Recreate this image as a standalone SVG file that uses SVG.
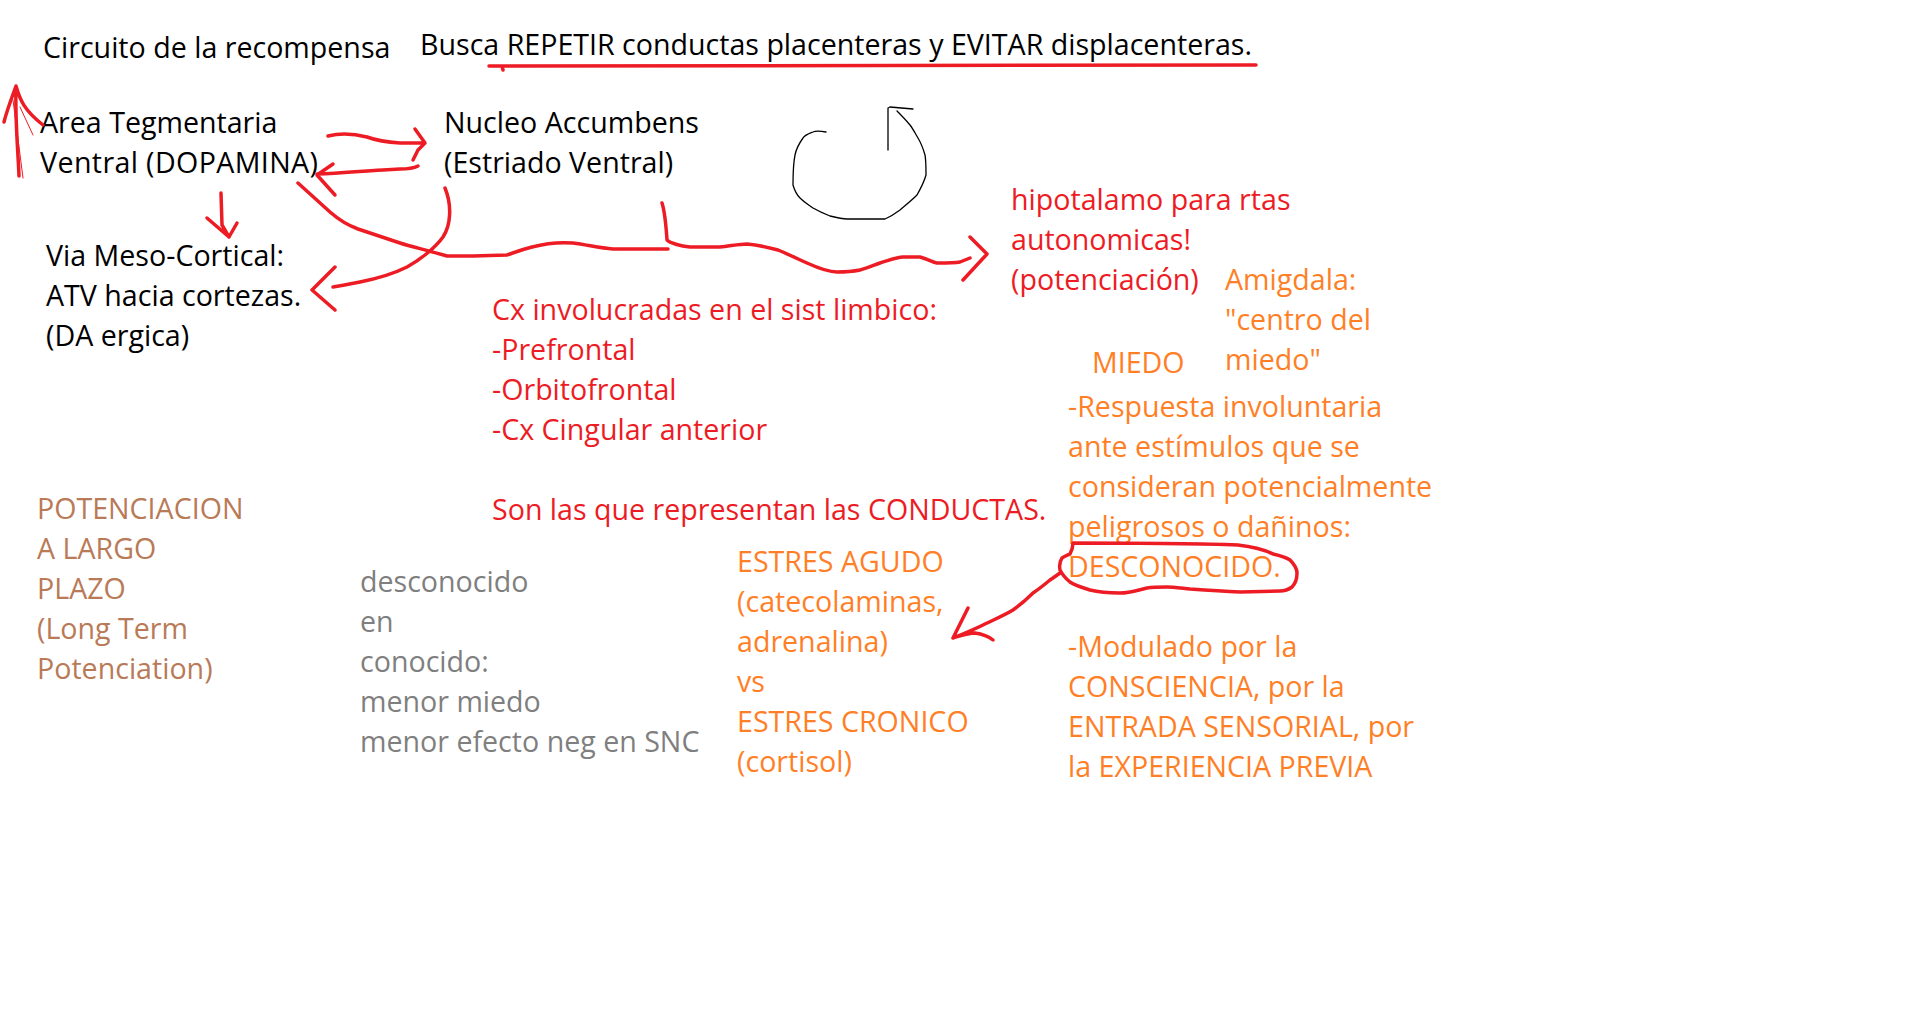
<svg xmlns="http://www.w3.org/2000/svg" width="1906" height="1021" viewBox="0 0 1906 1021">
<style>
text{font-family:"Open Sans","Noto Sans",sans-serif;font-size:28.6px}
.k{fill:#000}
.r{fill:#ed1c24}
.o{fill:#ff7f27}
.b{fill:#b97a57}
.g{fill:#7f7f7f}
.s{fill:none;stroke:#ed1c24;stroke-width:3.5;stroke-linecap:round;stroke-linejoin:round}
.thin{fill:none;stroke:#ed1c24;stroke-width:1;stroke-linecap:round}
.pen{fill:none;stroke:#000;stroke-width:1.3;stroke-linecap:round;stroke-linejoin:round}
</style>
<rect width="1906" height="1021" fill="#fff"/>
<g id="titulo"><text class="k" x="43" y="58">Circuito de la recompensa</text></g>
<g id="busca"><text class="k" x="420" y="55">Busca REPETIR conductas placenteras y EVITAR displacenteras.</text></g>
<g id="atv"><text class="k" x="40" y="133">Area Tegmentaria<tspan x="40" dy="40" textLength="278">Ventral (DOPAMINA)</tspan></text></g>
<g id="nucleo"><text class="k" x="444" y="133">Nucleo Accumbens<tspan x="444" dy="40">(Estriado Ventral)</tspan></text></g>
<g id="mesocortical"><text class="k" x="46" y="266">Via Meso-Cortical:<tspan x="46" dy="40">ATV hacia cortezas.</tspan><tspan x="46" dy="40">(DA ergica)</tspan></text></g>
<g id="hipotalamo"><text class="r" x="1011" y="210">hipotalamo para rtas<tspan x="1011" dy="40">autonomicas!</tspan><tspan x="1011" dy="40">(potenciación)</tspan></text></g>
<g id="cortezas"><text class="r" x="492" y="320">Cx involucradas en el sist limbico:<tspan x="492" dy="40">-Prefrontal</tspan><tspan x="492" dy="40">-Orbitofrontal</tspan><tspan x="492" dy="40">-Cx Cingular anterior</tspan><tspan x="492" dy="80">Son las que representan las CONDUCTAS.</tspan></text></g>
<g id="amigdala"><text class="o" x="1225" y="290">Amigdala:<tspan x="1225" dy="40">"centro del</tspan><tspan x="1225" dy="40">miedo"</tspan></text></g>
<g id="miedo"><text class="o" x="1092" y="373">MIEDO</text></g>
<g id="respuesta"><text class="o" x="1068" y="417">-Respuesta involuntaria<tspan x="1068" dy="40">ante estímulos que se</tspan><tspan x="1068" dy="40">consideran potencialmente</tspan><tspan x="1068" dy="40">peligrosos o dañinos:</tspan><tspan x="1068" dy="40">DESCONOCIDO.</tspan></text></g>
<g id="estres"><text class="o" x="737" y="572">ESTRES AGUDO<tspan x="737" dy="40">(catecolaminas,</tspan><tspan x="737" dy="40">adrenalina)</tspan><tspan x="737" dy="40">vs</tspan><tspan x="737" dy="40">ESTRES CRONICO</tspan><tspan x="737" dy="40">(cortisol)</tspan></text></g>
<g id="modulado"><text class="o" x="1068" y="657">-Modulado por la<tspan x="1068" dy="40">CONSCIENCIA, por la</tspan><tspan x="1068" dy="40">ENTRADA SENSORIAL, por</tspan><tspan x="1068" dy="40">la EXPERIENCIA PREVIA</tspan></text></g>
<g id="potenciacion"><text class="b" x="37" y="519">POTENCIACION<tspan x="37" dy="40">A LARGO</tspan><tspan x="37" dy="40">PLAZO</tspan><tspan x="37" dy="40">(Long Term</tspan><tspan x="37" dy="40">Potenciation)</tspan></text></g>
<g id="desconocido"><text class="g" x="360" y="592">desconocido<tspan x="360" dy="40">en</tspan><tspan x="360" dy="40">conocido:</tspan><tspan x="360" dy="40">menor miedo</tspan><tspan x="360" dy="40">menor efecto neg en SNC</tspan></text></g>
<g id="connectors">
<path class="s" d="M489,66 L1256,65 M502,66 L503,70"/>
<path class="s" d="M19,176 C18,150 15,120 16,88 M4,122 C7,110 12,97 16,86 C20,100 24,110 43,125"/>
<path class="thin" d="M13,100 L23,178 M20,107 L33,135"/>
<path class="s" d="M328,136 C340,133 355,134 367,137 C375,140 383,142 400,143 L425,143 M415,129 L425,143 L418,150 L413,160"/>
<path class="s" d="M418,166 C414,168 410,169 400,169 L383,170 C360,171 345,173 317,174 M333,164 L317,175 L335,195"/>
<path class="s" d="M221,193 L222,225 L229,237 M207,218 L229,237 L237,223"/>
<path class="s" d="M298,183 C308,192 320,203 330,212 C338,219 347,225 358,229 C370,233 385,238 400,243 C412,247 427,250 447,256 L473,256 L507,255 C513,253 520,250 532,247 C547,243 560,242 573,243 C588,245 600,248 613,249 L668,249"/>
<path class="s" d="M445,188 C452,205 451,225 443,237 C435,248 420,260 407,267 C395,273 380,278 360,282 C350,284 340,286 333,287 M335,267 L312,290 L335,310"/>
<path class="s" d="M662,203 C665,212 666,225 667,240 C670,243 680,246 690,247 L720,247 C730,246 740,244 747,244 C757,245 767,247 778,250 C790,255 798,259 807,263 C818,268 828,272 837,272 C848,272 855,271 860,270 C868,268 874,265 880,263 C890,260 897,257 903,257 L920,257 C928,259 932,262 937,263 C945,263 955,263 960,262 L970,258 M970,237 L987,254 L963,280"/>
<path class="pen" d="M826,132 C820,131 815,131 813,132 C808,134 805,135 803,138 C798,145 796,150 795,155 C793,165 793,175 793,185 C795,192 797,195 800,198 C805,203 809,205 813,208 C820,212 825,214 830,216 C838,218 843,219 847,219 L885,219 C892,216 896,213 900,210 C907,204 912,200 917,195 C921,188 924,182 926,175 C926,168 926,160 925,155 C923,148 921,143 918,138 C915,133 913,129 910,125 C905,119 901,115 897,111 M888,150 L888,108 L890,107 L913,109"/>
<path class="s" d="M1073,543 C1120,543 1190,543 1238,545 C1255,547 1265,550 1273,554 C1282,556 1287,558 1290,560 C1295,565 1297,569 1297,573 C1297,580 1295,584 1292,587 C1288,590 1285,591 1280,591 L1240,592 C1220,591 1205,590 1190,589 C1180,588 1172,587 1167,587 C1160,587 1153,587 1147,588 C1138,590 1130,593 1120,593 C1108,593 1098,592 1090,590 C1080,587 1074,585 1070,582 C1065,578 1062,574 1060,570 C1059,565 1060,561 1062,558 C1065,556 1068,555 1070,554 C1072,550 1073,546 1073,543"/>
<path class="s" d="M1060,573 C1056,576 1053,578 1050,580 C1044,585 1039,589 1033,593 C1027,599 1020,605 1013,610 C1003,616 993,620 983,625 C973,630 963,634 953,638 M968,608 L953,638 C960,636 968,633 975,633 C982,634 988,636 993,640"/>
</g>
</svg>
